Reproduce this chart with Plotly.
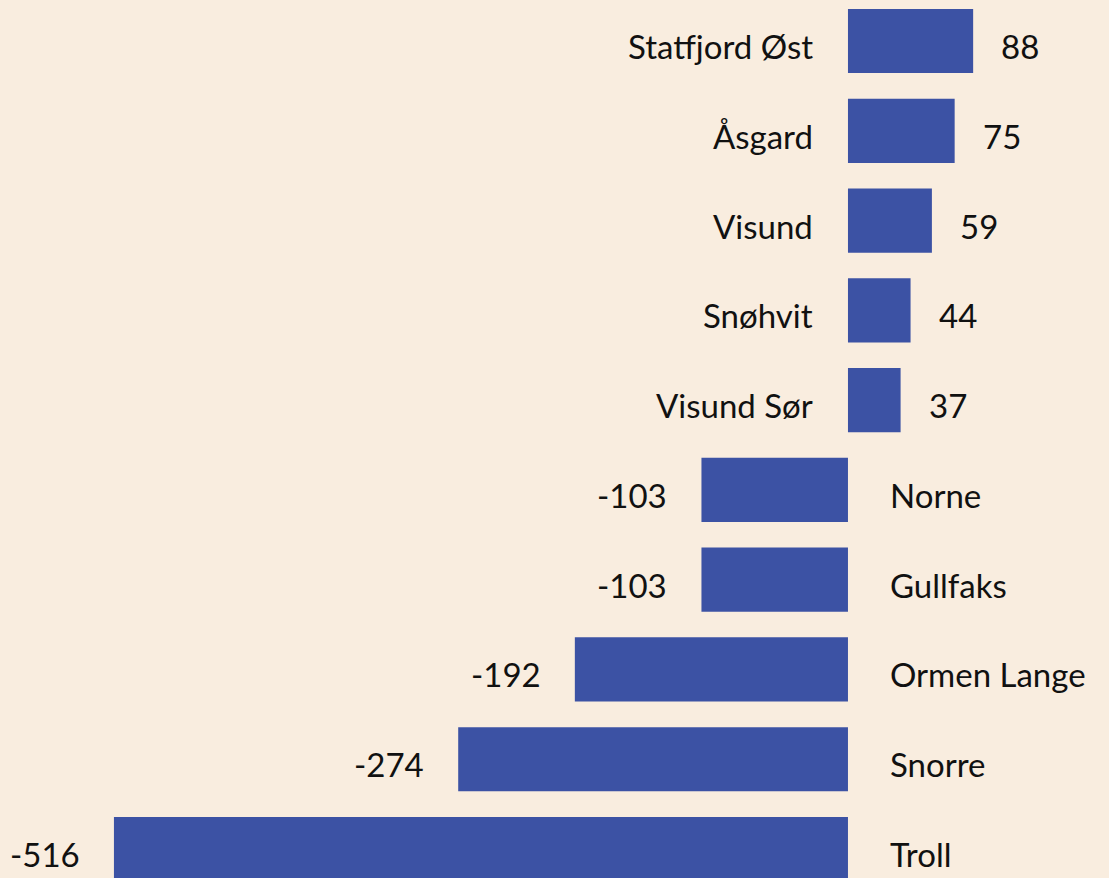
import plotly.graph_objects as go

# fields, bottom to top as plotted
fields = ["Troll", "Snorre", "Ormen Lange", "Gullfaks", "Norne",
          "Visund Sør", "Snøhvit", "Visund", "Åsgard", "Statfjord Øst"]
values = [-516, -274, -192, -103, -103, 37, 44, 59, 75, 88]

BAR = "#3c52a4"
BG = "#f9eddf"
FONT = dict(family="Lato, Noto Sans, sans-serif", size=33, color="#111111")

fig = go.Figure(
    go.Bar(
        y=fields,
        x=values,
        orientation="h",
        marker_color=BAR,
        marker_line_width=0,
        hoverinfo="skip",
    )
)

for name, val in zip(fields, values):
    if val >= 0:
        # name left of the zero line, value right of bar end
        fig.add_annotation(x=0, y=name, text=name, xanchor="right", xshift=-33,
                           yshift=-5, showarrow=False, font=FONT)
        fig.add_annotation(x=val, y=name, text=str(val), xanchor="left", xshift=26,
                           yshift=-5, showarrow=False, font=FONT)
    else:
        fig.add_annotation(x=0, y=name, text=name, xanchor="left", xshift=40,
                           yshift=-5, showarrow=False, font=FONT)
        fig.add_annotation(x=val, y=name, text=str(val), xanchor="right", xshift=-32,
                           yshift=-5, showarrow=False, font=FONT)

fig.update_layout(
    width=1109,
    height=878,
    margin=dict(l=0, r=0, t=0, b=0),
    paper_bgcolor=BG,
    plot_bgcolor=BG,
    bargap=0.285,
    showlegend=False,
    xaxis=dict(range=[-596.1, 183.5], visible=False, fixedrange=True),
    yaxis=dict(range=[-0.323, 9.457], visible=False, fixedrange=True),
)

fig.write_html(
    "out.html",
    config={"displayModeBar": False},
    post_script="document.body.style.margin='0';document.body.style.background='%s';" % BG,
)
